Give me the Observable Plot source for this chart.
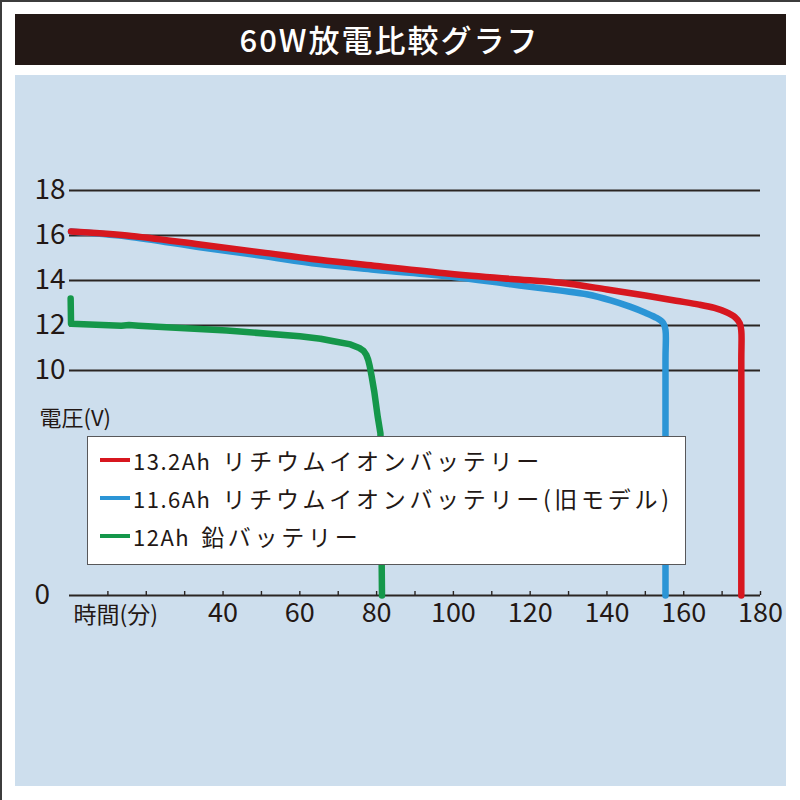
<!DOCTYPE html>
<html>
<head>
<meta charset="utf-8">
<script src="https://cdn.jsdelivr.net/npm/d3@7"></script>
<script src="https://cdn.jsdelivr.net/npm/@observablehq/plot@0.6"></script>
<style>
  html, body { margin: 0; padding: 0; background: #ffffff; }
  #page { position: relative; width: 800px; height: 800px; overflow: hidden; background: #ffffff;
          font-family: "Noto Sans CJK JP", "Noto Sans", sans-serif; color: #231815; }
  .edge-top { position: absolute; left: 0; top: 0; width: 800px; height: 2px; background: #3c3c3c; }
  .edge-left { position: absolute; left: 0; top: 0; width: 2px; height: 800px; background: #3c3c3c; }
  #title { position: absolute; left: 15px; top: 14px; width: 771px; height: 51px; background: #231815;
           color: #ffffff; font-size: 31px; font-weight: 500; line-height: 49px; text-align: center; letter-spacing: 2px;
           box-sizing: border-box; padding-right: 22px; }
  #panel { position: absolute; left: 15px; top: 75px; width: 771px; height: 711px; background: #cddeed; }
  #chart { position: absolute; left: 0; top: 0; }
  #legend { position: absolute; left: 87px; top: 436px; width: 599px; height: 129px; background: #ffffff;
            border: 1.5px solid #58585a; box-sizing: border-box; }
  .row { position: absolute; left: 12px; height: 30px; display: flex; align-items: center; white-space: nowrap; }
  .swatch { width: 30px; height: 4px; margin-right: 3px; }
  .cap { font-size: 22px; letter-spacing: 1.5px; }
  .kind { font-size: 23px; letter-spacing: 3.7px; margin-left: 11px; }
</style>
</head>
<body>
<div id="page">
  <div id="panel"></div>
  <div id="title"></div>
  <div class="edge-top"></div>
  <div class="edge-left"></div>
</div>
<script>
// ---- text ----
const chartTitle = "60W放電比較グラフ";
const voltTitle = "電圧(V)";
const timeTitle = "時間(分)";

// ---- axes ----
const gridVolts = [10, 12, 14, 16, 18];
const voltLabels = [0, 10, 12, 14, 16, 18];
const minuteTicks = [10, 20, 30, 40, 50, 60, 70, 80, 90, 100, 110, 120, 130, 140, 150, 160, 170, 180];
const minuteLabels = [40, 60, 80, 100, 120, 140, 160, 180];

// ---- legend ----
const legendCapacity = ["13.2Ah", "11.6Ah", "12Ah"];
const legendKind = ["リチウムイオンバッテリー", "リチウムイオンバッテリー(旧モデル)", "鉛バッテリー"];
const seriesColors = ["#d7171f", "#2b95d6", "#15974a"];

// ---- series: 13.2Ah lithium ion (red) ----
const redTime = [0.4, 15, 34, 50, 65, 80, 99, 115, 128, 140, 150, 158, 164, 168, 171, 173.3, 174.6, 175, 175, 175, 175];
const redVolt = [16.18, 16.0, 15.6, 15.25, 14.92, 14.64, 14.3, 14.07, 13.9, 13.6, 13.33, 13.1, 12.93, 12.78, 12.6, 12.38, 12.1, 11.75, 10.5, 3, 0];

// ---- series: 11.6Ah lithium ion, old model (blue) ----
const blueTime = [0.4, 15, 34, 50, 65, 80, 99, 115, 128, 135, 141, 146, 150, 153, 154.7, 155.25, 155.25, 155.25, 155.25];
const blueVolt = [16.18, 15.96, 15.48, 15.1, 14.73, 14.47, 14.18, 13.83, 13.55, 13.38, 13.12, 12.84, 12.57, 12.33, 12.1, 11.8, 10.5, 3, 0];

// ---- series: 12Ah lead (green) ----
const greenTime = [0.3, 0.4, 13.5, 15.5, 18, 41, 60, 65.4, 68.8, 73.2, 75.5, 76.6, 77.3, 77.8, 78.2, 78.7, 79.4, 80.3, 81, 81.4];
const greenVolt = [13.2, 12.08, 11.99, 12.02, 11.99, 11.78, 11.52, 11.41, 11.3, 11.16, 11.0, 10.87, 10.7, 10.48, 10.2, 9.75, 9.05, 7.93, 7.2, 0];

const toRows = (T, V) => T.map((t, i) => ({t, v: V[i]}));
const redData = toRows(redTime, redVolt);
const blueData = toRows(blueTime, blueVolt);
const greenData = toRows(greenTime, greenVolt);

const ink = "#231815";
const lineStyle = {x: "t", y: "v", strokeWidth: 6.5, strokeLinejoin: "round", strokeLinecap: "round"};

document.getElementById("title").textContent = chartTitle;

const chart = Plot.plot({
  width: 800,
  height: 800,
  marginLeft: 69,
  marginRight: 40,
  marginTop: 190,
  marginBottom: 205,
  x: {domain: [0, 180]},
  y: {domain: [0, 18]},
  style: {background: "transparent", fontFamily: "'Noto Sans CJK JP', 'Noto Sans', sans-serif", color: ink, overflow: "visible"},
  marks: [
    Plot.ruleY(gridVolts, {y: d => d, stroke: "#2a2523", strokeWidth: 1.8}),
    Plot.ruleY([0], {y: d => d, stroke: "#2a2523", strokeWidth: 1.8}),
    Plot.ruleX(minuteTicks, {x: d => d, y1: 0, y2: 0, insetBottom: 4, stroke: "#2a2523", strokeWidth: 1.4}),
    Plot.axisX(minuteLabels, {tickSize: 0, tickPadding: 7, fontSize: 27, label: null, fill: ink}),
    Plot.axisY(voltLabels, {tickSize: 0, textAnchor: "start", dx: -26, fontSize: 28, label: null, fill: ink}),
    Plot.text([voltTitle], {text: d => d, frameAnchor: "top-left", dx: -30, dy: 220, textAnchor: "start", fontSize: 22, fill: ink}),
    Plot.text([timeTitle], {text: d => d, frameAnchor: "bottom-left", dx: 4, dy: 27, textAnchor: "start", fontSize: 23, fill: ink}),
    Plot.line(greenData, {...lineStyle, stroke: seriesColors[2]}),
    Plot.line(blueData, {...lineStyle, curve: "catmull-rom", stroke: seriesColors[1]}),
    Plot.line(redData, {...lineStyle, curve: "catmull-rom", stroke: seriesColors[0]})
  ]
});
chart.id = "chart";
document.getElementById("page").appendChild(chart);

// legend (HTML overlay)
const legend = document.createElement("div");
legend.id = "legend";
const rowTops = [8, 45.5, 84];
legendCapacity.forEach((cap, i) => {
  const row = document.createElement("div");
  row.className = "row";
  row.style.top = rowTops[i] + "px";
  const sw = document.createElement("div");
  sw.className = "swatch";
  sw.style.background = seriesColors[i];
  const c = document.createElement("span");
  c.className = "cap";
  c.textContent = cap;
  const k = document.createElement("span");
  k.className = "kind";
  k.textContent = legendKind[i];
  row.append(sw, c, k);
  legend.appendChild(row);
});
document.getElementById("page").appendChild(legend);
</script>
</body>
</html>
